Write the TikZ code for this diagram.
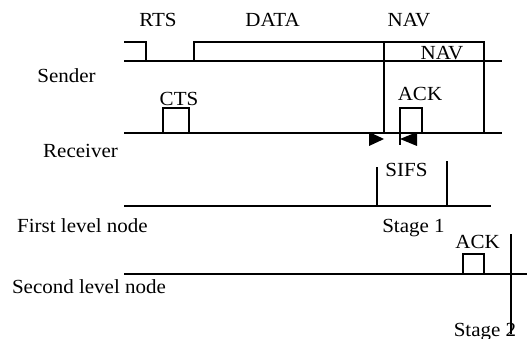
\documentclass[tikz,border=0pt]{standalone}
\usepackage{fontspec}
\setmainfont[FakeStretch=1.05]{Liberation Serif}
\begin{document}
\begin{tikzpicture}[x=1pt,y=-1pt,
  wave/.style={line width=1.6pt, line cap=rect},
  lbl/.style={inner sep=0pt, anchor=base, font=\fontsize{20}{24}\selectfont},
  tip/.style={fill=black, draw=none}]
\useasboundingbox (0,0) rectangle (527,339);

% ---- labels ----
\node[lbl] (rts)   at (158,27)  {RTS};
\node[lbl] (data)  at (272.5,27) {DATA};
\node[lbl] (nav)   at (409,27)  {NAV};
\node[lbl] (nav2)  at (442,60)  {NAV};
\node[lbl] (snd)   at (66.5,83) {Sender};
\node[lbl] (cts)   at (179,106) {CTS};
\node[lbl] (ack)   at (420,101) {ACK};
\node[lbl] (rcv)   at (80.5,158) {Receiver};
\node[lbl] (sifs)  at (406.5,177) {SIFS};
\node[lbl] (first) at (82.5,232) {First level node};
\node[lbl] (st1)   at (413.5,233) {Stage 1};
\node[lbl] (ack2)  at (477.5,248) {ACK};
\node[lbl] (second) at (89,293) {Second level node};
\node[lbl] (st2)   at (485,336) {Stage 2};

% ---- sender ----
\draw[wave] (125,61) -- (501,61);
\draw[wave] (125,42) -- (146,42) -- (146,61);
\draw[wave] (194,61) -- (194,42) -- (484,42) -- (484,133);
\draw[wave] (384,42) -- (384,133);

% ---- receiver ----
\draw[wave] (125,133) -- (501,133);
\draw[wave] (163,133) -- (163,108) -- (189,108) -- (189,133);
\draw[wave] (400,144) -- (400,108) -- (422,108) -- (422,133);
\fill[tip] (369,132) -- (384,139) -- (369,146) -- cycle;
\fill[tip] (417,132) -- (400,139) -- (417,146) -- cycle;

% ---- first level node ----
\draw[wave] (125,206) -- (490,206);
\draw[wave] (377,168) -- (377,206);
\draw[wave] (447,162) -- (447,206);

% ---- second level node ----
\draw[wave] (125,274) -- (527,274);
\draw[wave] (463,274) -- (463,254) -- (484,254) -- (484,274);
\draw[wave] (511,235) -- (511,333);
\end{tikzpicture}
\end{document}
